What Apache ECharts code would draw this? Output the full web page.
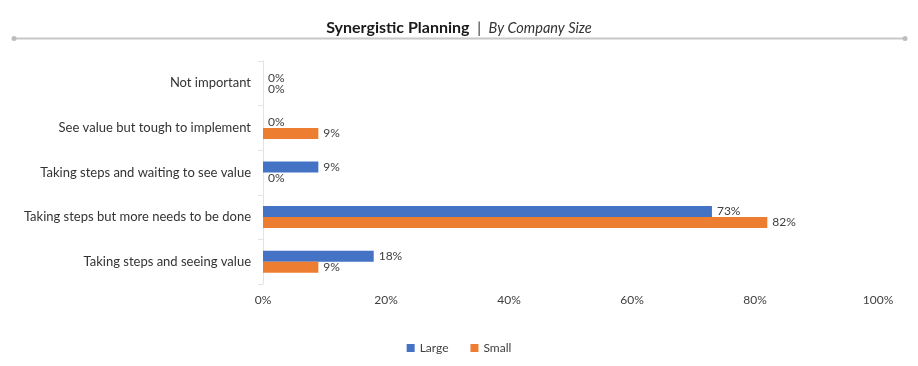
<!DOCTYPE html>
<html><head><meta charset="utf-8">
<script src="https://cdn.jsdelivr.net/npm/echarts@6/dist/echarts.min.js"></script>
<style>html,body{margin:0;padding:0;background:#fff}#c{width:918px;height:366px}</style>
</head><body><div id="c"></div>
<script>
const categories = ['Taking steps and seeing value','Taking steps but more needs to be done','Taking steps and waiting to see value','See value but tough to implement','Not important'];
const largeValues = [18, 73, 9, 0, 0];
const smallValues = [9, 82, 0, 9, 0];
const xTicks = [0, 20, 40, 60, 80, 100];

const font = 'Lato, "Open Sans", sans-serif';
const chart = echarts.init(document.getElementById('c'));
const lbl = {show:true, position:'right', distance:5, formatter:'{c}%', color:'#404040', fontSize:12, fontFamily:font};
chart.setOption({
  animation:false,
  title:{
    text:'{b|Synergistic Planning}{s|  |  }{i|By Company Size}',
    left:'center', top:15,
    textStyle:{rich:{
      b:{fontWeight:'bold', fontSize:16, color:'#1a1a1a', fontFamily:font},
      s:{fontWeight:'normal', fontSize:15, color:'#333', fontFamily:font},
      i:{fontWeight:'normal', fontStyle:'italic', fontSize:14.5, color:'#333', fontFamily:font}
    }}
  },
  graphic:[
    {type:'line', shape:{x1:14,y1:38.5,x2:905,y2:38.5}, style:{stroke:'#c8c8c8', lineWidth:2}},
    {type:'circle', shape:{cx:14,cy:38.5,r:2.5}, style:{fill:'#bdbdbd'}},
    {type:'circle', shape:{cx:905,cy:38.5,r:2.5}, style:{fill:'#bdbdbd'}}
  ],
  legend:{
    data:['Large','Small'], bottom:7, left:'center', itemWidth:8, itemHeight:8, itemGap:22,
    icon:'rect', textStyle:{fontSize:12, color:'#404040', fontFamily:font}
  },
  grid:{left:263, right:40, top:61, bottom:82, containLabel:false},
  xAxis:{
    type:'value', min:0, max:100, interval:20,
    axisLabel:{formatter:v=>v+'%', color:'#404040', fontSize:12, fontFamily:font, margin:10},
    axisLine:{show:false}, axisTick:{show:false}, splitLine:{show:false}
  },
  yAxis:{
    type:'category', data:categories,
    axisLine:{show:true, lineStyle:{color:'#e3e3e3'}},
    axisTick:{show:true, length:5, lineStyle:{color:'#e3e3e3'}},
    axisLabel:{color:'#333', fontSize:13, fontFamily:font, margin:12}
  },
  series:[
    {name:'Large', type:'bar', data:largeValues, barWidth:11, barGap:'0%', itemStyle:{color:'#4472C4'}, label:lbl},
    {name:'Small', type:'bar', data:smallValues, barWidth:11, barGap:'0%', itemStyle:{color:'#ED7D31'}, label:lbl}
  ]
});
</script></body></html>
